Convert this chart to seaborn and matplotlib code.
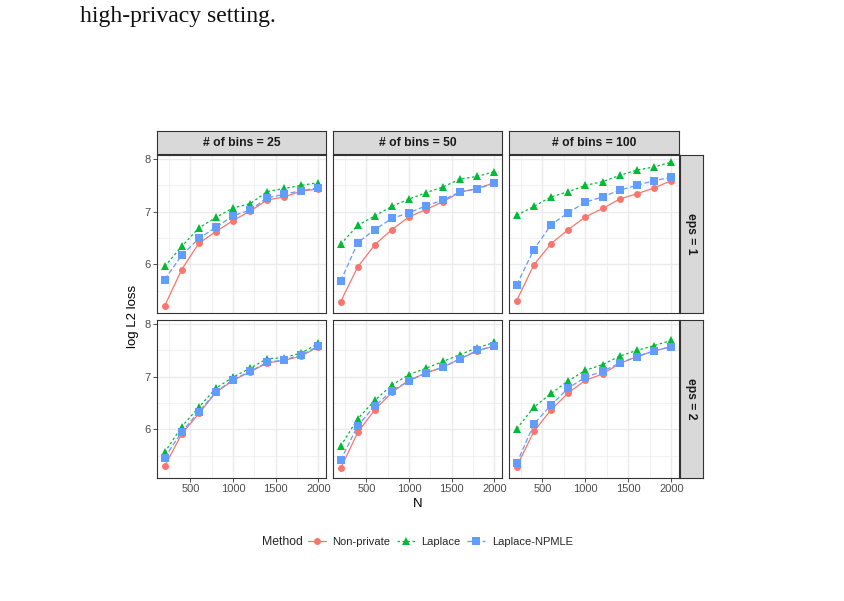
import numpy as np
import pandas as pd
import matplotlib
matplotlib.use('Agg')
import matplotlib.pyplot as plt
from matplotlib.lines import Line2D
import seaborn as sns

# Data
N = [200, 400, 600, 800, 1000, 1200, 1400, 1600, 1800, 2000]
bins_levels = [25, 50, 100]
eps_levels = [1, 2]
methods = ['Non-private', 'Laplace', 'Laplace-NPMLE']

# eps = 1
nonpriv_e1 = {
    25: [5.21, 5.90, 6.40, 6.62, 6.83, 7.01, 7.22, 7.28, 7.39, 7.43],
    50: [5.29, 5.95, 6.37, 6.66, 6.90, 7.04, 7.19, 7.37, 7.44, 7.55],
    100: [5.31, 5.99, 6.39, 6.66, 6.90, 7.06, 7.24, 7.34, 7.45, 7.59],
}
laplace_e1 = {
    25: [5.96, 6.34, 6.69, 6.89, 7.07, 7.15, 7.38, 7.44, 7.50, 7.55],
    50: [6.38, 6.74, 6.92, 7.10, 7.24, 7.36, 7.47, 7.62, 7.67, 7.76],
    100: [6.93, 7.10, 7.28, 7.38, 7.50, 7.57, 7.69, 7.79, 7.85, 7.94],
}
npmle_e1 = {
    25: [5.71, 6.17, 6.49, 6.70, 6.92, 7.03, 7.26, 7.33, 7.40, 7.45],
    50: [5.68, 6.41, 6.66, 6.87, 6.98, 7.11, 7.22, 7.38, 7.43, 7.54],
    100: [5.61, 6.28, 6.75, 6.98, 7.18, 7.28, 7.41, 7.50, 7.59, 7.65],
}
# eps = 2
nonpriv_e2 = {
    25: [5.30, 5.91, 6.30, 6.70, 6.93, 7.09, 7.26, 7.31, 7.39, 7.57],
    50: [5.26, 5.94, 6.37, 6.70, 6.93, 7.07, 7.18, 7.34, 7.49, 7.58],
    100: [5.29, 5.96, 6.37, 6.69, 6.93, 7.05, 7.25, 7.38, 7.49, 7.57],
}
laplace_e2 = {
    25: [5.56, 6.05, 6.42, 6.78, 6.99, 7.16, 7.34, 7.36, 7.45, 7.63],
    50: [5.68, 6.20, 6.55, 6.84, 7.04, 7.16, 7.29, 7.42, 7.55, 7.65],
    100: [6.01, 6.42, 6.68, 6.92, 7.12, 7.23, 7.39, 7.50, 7.59, 7.69],
}
npmle_e2 = {
    25: [5.46, 5.95, 6.33, 6.71, 6.94, 7.10, 7.27, 7.32, 7.41, 7.58],
    50: [5.41, 6.07, 6.44, 6.73, 6.92, 7.07, 7.18, 7.34, 7.50, 7.58],
    100: [5.35, 6.10, 6.46, 6.78, 6.99, 7.10, 7.26, 7.38, 7.49, 7.57],
}

series = {
    (1, 'Non-private'): nonpriv_e1, (1, 'Laplace'): laplace_e1, (1, 'Laplace-NPMLE'): npmle_e1,
    (2, 'Non-private'): nonpriv_e2, (2, 'Laplace'): laplace_e2, (2, 'Laplace-NPMLE'): npmle_e2,
}
rows = []
for (eps, m), d in series.items():
    for b, vals in d.items():
        for n, v in zip(N, vals):
            rows.append({'eps': eps, 'bins': b, 'Method': m, 'N': n, 'loss': v})
df = pd.DataFrame(rows)

palette = {'Non-private': '#F8766D', 'Laplace': '#00BA38', 'Laplace-NPMLE': '#619CFF'}
markers = {'Non-private': 'o', 'Laplace': '^', 'Laplace-NPMLE': 's'}
dashes = {'Non-private': '', 'Laplace': (2, 2), 'Laplace-NPMLE': (4, 2)}
msize = {'Non-private': 5, 'Laplace': 6, 'Laplace-NPMLE': 5.5}

sns.set_theme(style='white')
plt.rcParams['font.family'] = ['Liberation Sans', 'DejaVu Sans']

W, H = 845, 601
fig = plt.figure(figsize=(W / 100, H / 100), dpi=100)

def fx(px):
    return px / W

def fy(py):
    return 1 - py / H

col_x = [(157, 326), (333, 502), (509, 679)]
row_y = [(155, 313), (320, 478)]

# shared scales with ggplot-like 5% expansion
xr = max(N) - min(N)
xlim = (min(N) - 0.05 * xr, max(N) + 0.05 * xr)
yr = df['loss'].max() - df['loss'].min()
ylim = (df['loss'].min() - 0.05 * yr, df['loss'].max() + 0.05 * yr)

edge = '#333333'
for i, eps in enumerate(eps_levels):
    for j, b in enumerate(bins_levels):
        x0, x1 = col_x[j]
        y0, y1 = row_y[i]
        ax = fig.add_axes([fx(x0), fy(y1), fx(x1 - x0), (y1 - y0) / H])
        sub = df[(df['eps'] == eps) & (df['bins'] == b)]
        sns.lineplot(data=sub, x='N', y='loss', hue='Method', style='Method',
                     hue_order=methods, style_order=methods, palette=palette,
                     markers=markers, dashes=dashes, linewidth=0.9,
                     markersize=5.5, markeredgewidth=0, legend=False, ax=ax)
        for line, m in zip(ax.get_lines(), methods):
            line.set_markersize(msize[m])
        ax.set_xlim(xlim)
        ax.set_ylim(ylim)
        ax.set_xticks([500, 1000, 1500, 2000])
        ax.set_xticks([250, 750, 1250, 1750], minor=True)
        ax.set_yticks([6, 7, 8])
        ax.set_yticks([5.5, 6.5, 7.5], minor=True)
        ax.grid(which='major', color='#EBEBEB', linewidth=1.0)
        ax.grid(which='minor', color='#EBEBEB', linewidth=0.5)
        ax.set_axisbelow(True)
        ax.set_xlabel('')
        ax.set_ylabel('')
        for s in ax.spines.values():
            s.set_color(edge)
            s.set_linewidth(0.8)
        ax.tick_params(which='minor', length=0)
        ax.tick_params(which='major', length=3, width=0.6, color=edge,
                       labelsize=8, labelcolor='#4D4D4D', pad=1.5)
        if j != 0:
            ax.tick_params(axis='y', length=0, labelleft=False)
        else:
            ax.tick_params(axis='y', left=True)
        if i != len(eps_levels) - 1:
            ax.tick_params(axis='x', length=0, labelbottom=False)
        else:
            ax.tick_params(axis='x', bottom=True)
        # top strip
        if i == 0:
            sax = fig.add_axes([fx(x0), fy(154), fx(x1 - x0), 23 / H])
            sax.set_facecolor('#D9D9D9')
            sax.set_xticks([])
            sax.set_yticks([])
            for s in sax.spines.values():
                s.set_color(edge)
                s.set_linewidth(0.8)
            sax.text(0.5, 0.5, f'# of bins = {b}', ha='center', va='center',
                     fontsize=8.7, fontweight='bold', color='#1A1A1A',
                     transform=sax.transAxes)
        # right strip
        if j == len(bins_levels) - 1:
            rax = fig.add_axes([fx(680), fy(y1), fx(23), (y1 - y0) / H])
            rax.set_facecolor('#D9D9D9')
            rax.set_xticks([])
            rax.set_yticks([])
            for s in rax.spines.values():
                s.set_color(edge)
                s.set_linewidth(0.8)
            rax.text(0.5, 0.5, f'eps = {eps}', ha='center', va='center',
                     rotation=270, fontsize=8.7, fontweight='bold', color='#1A1A1A',
                     transform=rax.transAxes)

# axis titles
fig.text(fx(133), fy(316), 'log L2 loss', rotation=90, ha='center', va='center',
         fontsize=9.5, color='black')
fig.text(fx(418), fy(504), 'N', ha='center', va='center', fontsize=9.5, color='black')

# legend
handles = [Line2D([0], [0], color=palette[m], marker=markers[m], markersize=msize[m],
                  markeredgewidth=0, linewidth=0.9,
                  linestyle='-' if dashes[m] == '' else (0, dashes[m]))
           for m in methods]
fig.text(fx(262), fy(542), 'Method', ha='left', va='center', fontsize=8.8)
fig.legend(handles, methods, loc='center left', bbox_to_anchor=(fx(308), fy(542)),
           ncol=3, frameon=False, fontsize=8, handlelength=1.6, handletextpad=0.6,
           columnspacing=0.6, borderpad=0, borderaxespad=0)

# surrounding document text
fig.text(fx(80), fy(22), 'high-privacy setting.', ha='left', va='baseline',
         fontsize=17, family=['Liberation Serif', 'DejaVu Serif'], color='#111111')

fig.savefig('out.png', dpi=100)
